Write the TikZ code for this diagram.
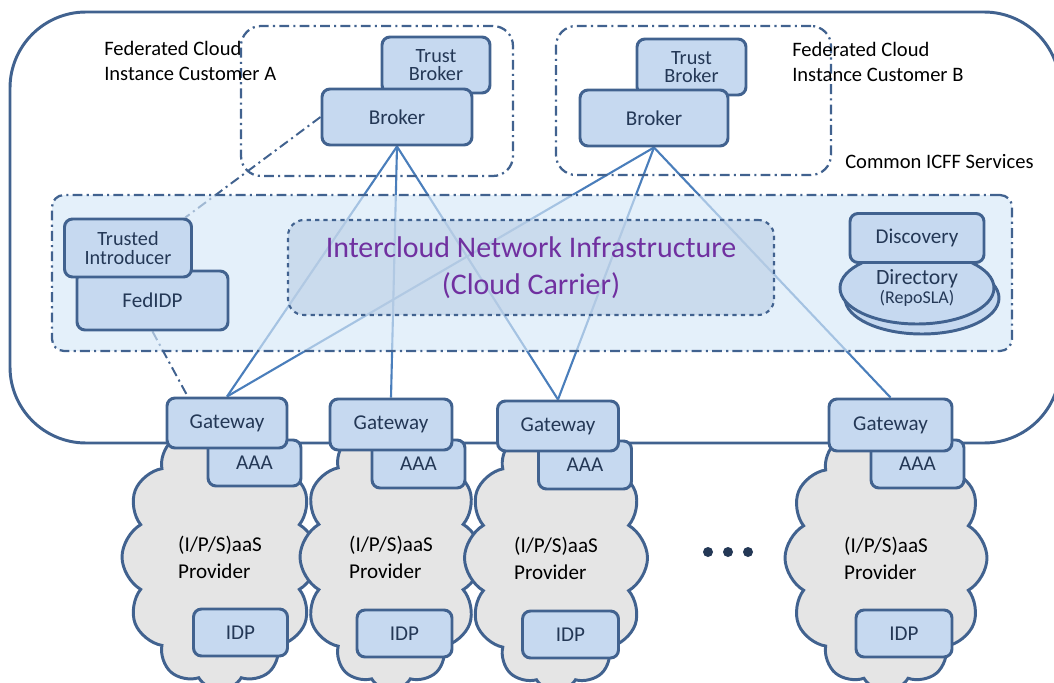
\documentclass[tikz,border=0pt]{standalone}
\usepackage{fontspec}
\setmainfont{Carlito}
\usepackage{tikz}
\usetikzlibrary{
	backgrounds,
	shapes.geometric,
	shapes.symbols,
}

\definecolor{boxline}{RGB}{65,98,143}
\definecolor{boxfill}{RGB}{198,217,240}
\definecolor{boxtext}{RGB}{36,56,86}
\definecolor{linkblue}{RGB}{74,126,187}
\definecolor{svcfill}{RGB}{214,232,248}
\definecolor{netfill}{RGB}{185,205,228}
\definecolor{netpurple}{RGB}{112,48,160}
\definecolor{cloudgray}{RGB}{229,229,229}

\tikzset{
	sz/.style 2 args={minimum width=#1*0.025cm, minimum height=#2*0.025cm},
	box/.style={draw=boxline, line width=2.1pt, fill=boxfill, rounded corners=0.2cm,
		inner sep=0pt, align=center, text=boxtext, font=\fontsize{15}{12.8}\selectfont},
	twoline/.style={font=\fontsize{14.4}{13.4}\selectfont},
	dashdot/.style={draw=boxline, line width=1.6pt, dash pattern=on 7pt off 3pt on 1.5pt off 3pt},
	link/.style={draw=linkblue, line width=1.5pt},
	provider/.style={cloud, cloud puffs=12, cloud puff arc=120, cloud ignores aspect,
		draw=boxline, line width=2.1pt, fill=cloudgray, inner sep=0pt, align=left,
		font=\fontsize{15}{19.1}\selectfont},
	caption/.style={anchor=west, inner sep=0pt, align=left, font=\fontsize{14.6}{18.4}\selectfont},
}

\begin{document}
\begin{tikzpicture}[x=0.025cm, y=-0.025cm]
	\useasboundingbox (0,0) rectangle (1054,683);

	% outer frame
	\draw[draw=boxline, line width=2.1pt, rounded corners=1.9cm] (10,12) rectangle (1060,443);

	% customer instances
	\node[dashdot, rounded corners=0.5cm, sz={272}{150}] (custA) at (377,101) {};
	\node[dashdot, rounded corners=0.5cm, sz={275}{149}] (custB) at (693.5,100.5) {};
	\node[caption] (capA) at (104,61) {Federated Cloud\\Instance Customer A};
	\node[caption] (capB) at (792,62) {Federated Cloud\\Instance Customer B};
	\node[caption] (capSvc) at (845,162) {Common ICFF Services};

	% brokers
	\node[box, twoline, sz={108}{56}] (tbA) at (436,65) {Trust\\Broker};
	\node[box, sz={150}{56}] (brA) at (397,117) {Broker};
	\node[box, twoline, sz={109}{56}] (tbB) at (691.5,67) {Trust\\Broker};
	\node[box, sz={148}{56}] (brB) at (654,118) {Broker};

	% common services
	\node[dashdot, fill=svcfill, fill opacity=0.65, rounded corners=0.3cm, sz={960}{156}] (svc) at (532,273) {};
	\node[draw=boxline, dashed, line width=1.5pt, fill=netfill, fill opacity=0.6, text opacity=1,
		rounded corners=0.4cm, sz={486}{95}, align=center, text=netpurple,
		font=\fontsize{21.3}{26.2}\selectfont] (icn) at (531,267.5)
		{Intercloud Network Infrastructure\\(Cloud Carrier)};

	\node[box, sz={151}{59}] (fedidp) at (152.5,300.5) {FedIDP};
	\node[box, twoline, sz={127}{58}] (ti) at (128,248) {Trusted\\Introducer};

	\node[box, ellipse, sz={154}{72}] (dirback) at (922,298) {};
	\node[box, ellipse, sz={154}{72}, font=\fontsize{15.5}{13.5}\selectfont] (dir) at (917,288)
		{Directory\\{\fontsize{12.8}{13}\selectfont (RepoSLA)}};
	\node[box, sz={134}{49}] (disc) at (917,238) {Discovery};

	% providers
	\node[provider, sz={196}{266}] (cl1) at (220,557) {(I/P/S)aaS\\Provider};
	\node[box, sz={94}{47}] (idp1) at (240.5,632.5) {IDP};
	\node[box, sz={93}{46}] (aaa1) at (254.5,463) {AAA};
	\node[box, sz={120}{50}] (gw1) at (227,423) {Gateway};

	\node[provider, sz={182}{266}] (cl2) at (391,557) {(I/P/S)aaS\\Provider};
	\node[box, sz={95}{47}] (idp2) at (404.5,633.5) {IDP};
	\node[box, sz={93}{48}] (aaa2) at (418.5,464) {AAA};
	\node[box, sz={122}{51}] (gw2) at (391,424.5) {Gateway};

	\node[provider, sz={183}{266}] (cl3) at (556,558) {(I/P/S)aaS\\Provider};
	\node[box, sz={96}{47}] (idp3) at (570.5,634.5) {IDP};
	\node[box, sz={93}{48}] (aaa3) at (585,465) {AAA};
	\node[box, sz={121}{50}] (gw3) at (558,426) {Gateway};

	\node[provider, sz={202}{266}] (cl4) at (886,558) {(I/P/S)aaS\\Provider};
	\node[box, sz={96}{47}] (idp4) at (904,633.5) {IDP};
	\node[box, sz={93}{48}] (aaa4) at (917.5,464) {AAA};
	\node[box, sz={123}{52}] (gw4) at (890.5,425) {Gateway};

	% more providers
	\foreach \dx in {708,728,748}
		\fill[boxtext] (\dx,552) circle (5);

	% links, behind everything
	\begin{pgfonlayer}{background}
		\draw[link] (brA.south) -- (gw1.north);
		\draw[link] (brA.south) -- (gw2.north);
		\draw[link] (brA.south) -- (gw3.north);
		\draw[link] (brB.south) -- (gw1.north);
		\draw[link] (brB.south) -- (gw3.north);
		\draw[link] (brB.south) -- (gw4.north);
		\draw[dashdot, line width=1.4pt] (brA.west) -- (ti.28);
		\draw[dashdot, line width=1.4pt] (fedidp.south) -- (gw1.146);
	\end{pgfonlayer}
\end{tikzpicture}
\end{document}
